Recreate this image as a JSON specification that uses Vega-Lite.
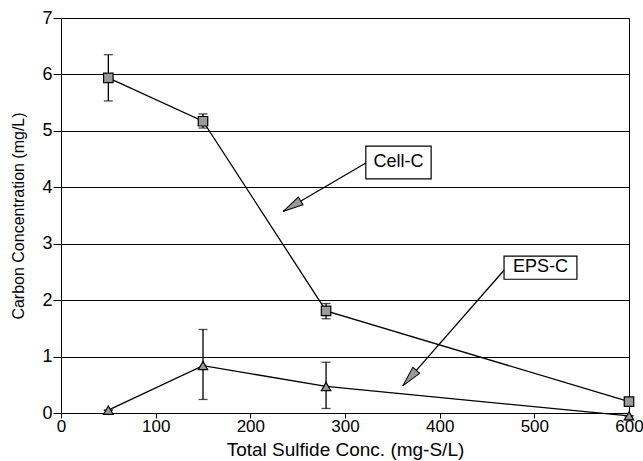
{
  "$schema": "https://vega.github.io/schema/vega-lite/v6.json",
  "width": 568,
  "height": 395,
  "autosize": {"type": "none"},
  "padding": {"left": 61, "top": 18, "right": 14, "bottom": 48},
  "background": "white",
  "config": {
    "view": {"stroke": "black", "strokeWidth": 1},
    "font": "Liberation Sans"
  },
  "datasets": {
    "points": [
      {"series": "Cell-C", "x": 50, "y": 5.94, "lo": 5.53, "hi": 6.35},
      {"series": "Cell-C", "x": 150, "y": 5.17, "lo": 5.05, "hi": 5.3},
      {"series": "Cell-C", "x": 280, "y": 1.81, "lo": 1.67, "hi": 1.94},
      {"series": "Cell-C", "x": 600, "y": 0.2, "lo": 0.17, "hi": 0.23},
      {"series": "EPS-C", "x": 50, "y": 0.05, "lo": 0.05, "hi": 0.05},
      {"series": "EPS-C", "x": 150, "y": 0.84, "lo": 0.24, "hi": 1.48},
      {"series": "EPS-C", "x": 280, "y": 0.47, "lo": 0.08, "hi": 0.9},
      {"series": "EPS-C", "x": 600, "y": -0.05, "lo": -0.05, "hi": -0.05}
    ],
    "notes": [
      {"label": "Cell-C", "bx1": 322, "bx2": 391, "by1": 4.15, "by2": 4.73, "tx": 356.5, "ty": 4.44, "ax1": 322, "ay1": 4.43, "ax2": 234.5, "ay2": 3.57},
      {"label": "EPS-C", "bx1": 468, "bx2": 545, "by1": 2.37, "by2": 2.78, "tx": 506.5, "ty": 2.58, "ax1": 468, "ay1": 2.53, "ax2": 361, "ay2": 0.48}
    ]
  },
  "layer": [
    {
      "data": {"name": "points"},
      "mark": {"type": "rule", "color": "black", "strokeWidth": 1.3},
      "encoding": {
        "x": {
          "field": "x", "type": "quantitative",
          "scale": {"domain": [0, 600], "nice": false},
          "axis": {
            "title": "Total Sulfide Conc. (mg-S/L)",
            "values": [0, 100, 200, 300, 400, 500, 600],
            "format": "d",
            "grid": false,
            "domainColor": "black",
            "tickColor": "black",
            "tickSize": 5,
            "labelFontSize": 17,
            "labelColor": "black",
            "labelPadding": 0,
            "labelFlush": false,
            "titleFontSize": 19,
            "titleFontWeight": "normal",
            "titleColor": "black",
            "titlePadding": 6
          }
        },
        "y": {
          "field": "lo", "type": "quantitative",
          "scale": {"domain": [0, 7], "nice": false},
          "axis": {
            "title": "Carbon Concentration (mg/L)",
            "values": [0, 1, 2, 3, 4, 5, 6, 7],
            "format": "d",
            "grid": true,
            "gridColor": "black",
            "gridOpacity": 1,
            "gridWidth": 1,
            "domainColor": "black",
            "tickColor": "black",
            "tickSize": 8,
            "labelFontSize": 18,
            "labelColor": "black",
            "labelPadding": 1,
            "titleFontSize": 16,
            "titleFontWeight": "normal",
            "titleColor": "black",
            "titlePadding": 15
          }
        },
        "y2": {"field": "hi"}
      }
    },
    {
      "data": {"name": "points"},
      "mark": {"type": "tick", "orient": "horizontal", "color": "black", "size": 9, "thickness": 1.3},
      "encoding": {
        "x": {"field": "x", "type": "quantitative"},
        "y": {"field": "lo", "type": "quantitative"}
      }
    },
    {
      "data": {"name": "points"},
      "mark": {"type": "tick", "orient": "horizontal", "color": "black", "size": 9, "thickness": 1.3},
      "encoding": {
        "x": {"field": "x", "type": "quantitative"},
        "y": {"field": "hi", "type": "quantitative"}
      }
    },
    {
      "data": {"name": "points"},
      "mark": {"type": "line", "color": "black", "strokeWidth": 1.3},
      "encoding": {
        "x": {"field": "x", "type": "quantitative"},
        "y": {"field": "y", "type": "quantitative"},
        "detail": {"field": "series"}
      }
    },
    {
      "data": {"name": "points"},
      "mark": {"type": "point", "filled": true, "fill": "#9a9a9a", "stroke": "black", "strokeWidth": 1.2, "size": 90, "opacity": 1},
      "encoding": {
        "x": {"field": "x", "type": "quantitative"},
        "y": {"field": "y", "type": "quantitative"},
        "shape": {
          "field": "series", "type": "nominal",
          "scale": {"domain": ["Cell-C", "EPS-C"], "range": ["square", "triangle-up"]},
          "legend": null
        }
      }
    },
    {
      "data": {"name": "notes"},
      "mark": {"type": "rect", "fill": "white", "stroke": "black", "strokeWidth": 1.2},
      "encoding": {
        "x": {"field": "bx1", "type": "quantitative"},
        "x2": {"field": "bx2"},
        "y": {"field": "by1", "type": "quantitative"},
        "y2": {"field": "by2"}
      }
    },
    {
      "data": {"name": "notes"},
      "mark": {"type": "text", "fontSize": 18, "color": "black", "align": "center", "baseline": "middle"},
      "encoding": {
        "x": {"field": "tx", "type": "quantitative"},
        "y": {"field": "ty", "type": "quantitative"},
        "text": {"field": "label"}
      }
    },
    {
      "data": {"name": "notes"},
      "mark": {"type": "rule", "color": "black", "strokeWidth": 1.3},
      "encoding": {
        "x": {"field": "ax1", "type": "quantitative"},
        "y": {"field": "ay1", "type": "quantitative"},
        "x2": {"field": "ax2"},
        "y2": {"field": "ay2"}
      }
    },
    {
      "data": {"name": "notes"},
      "transform": [{"filter": "datum.label == 'Cell-C'"}],
      "mark": {"type": "point", "shape": "M0,0L0.22,1L-0.22,1Z", "filled": true, "fill": "#9a9a9a", "stroke": "black", "strokeWidth": 1, "size": 1700, "angle": 239, "opacity": 1},
      "encoding": {
        "x": {"field": "ax2", "type": "quantitative"},
        "y": {"field": "ay2", "type": "quantitative"}
      }
    },
    {
      "data": {"name": "notes"},
      "transform": [{"filter": "datum.label == 'EPS-C'"}],
      "mark": {"type": "point", "shape": "M0,0L0.22,1L-0.22,1Z", "filled": true, "fill": "#9a9a9a", "stroke": "black", "strokeWidth": 1, "size": 1700, "angle": 221, "opacity": 1},
      "encoding": {
        "x": {"field": "ax2", "type": "quantitative"},
        "y": {"field": "ay2", "type": "quantitative"}
      }
    }
  ]
}
